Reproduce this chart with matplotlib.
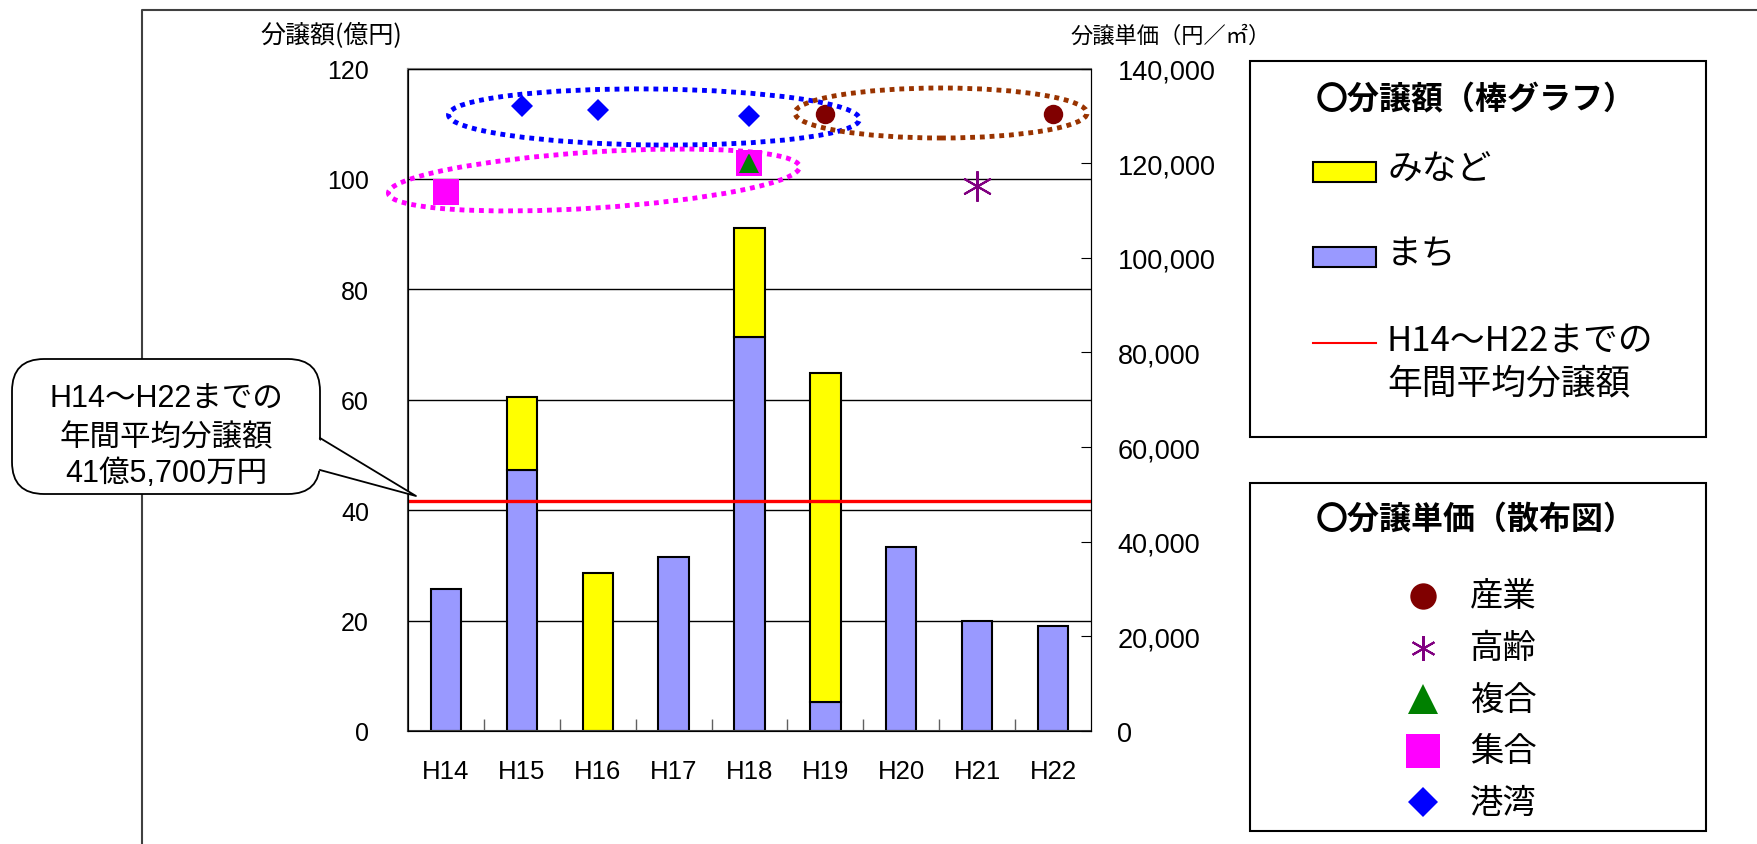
import numpy as np
import matplotlib
matplotlib.use("Agg")
import matplotlib.pyplot as plt
from matplotlib.patches import Ellipse, FancyBboxPatch, Polygon, Rectangle
from matplotlib.lines import Line2D
from matplotlib.ticker import FuncFormatter
from matplotlib.transforms import IdentityTransform

W, H = 1758, 845
JP = ["Noto Sans CJK JP", "DejaVu Sans"]
LAT = ["Liberation Sans", "Noto Sans CJK JP", "DejaVu Sans"]
plt.rcParams["font.family"] = LAT

# --- データ -------------------------------------------------------------
years = ["H14", "H15", "H16", "H17", "H18", "H19", "H20", "H21", "H22"]
machi = [25.8, 47.3, 0.0, 31.5, 71.3, 5.3, 33.3, 19.9, 19.1]      # 億円
minato = [0.0, 13.2, 28.6, 0.0, 19.9, 59.5, 0.0, 0.0, 0.0]        # 億円
avg_amount = 41.57                                                 # 億円

nan = np.nan
price_sangyo = [nan, nan, nan, nan, nan, 130400, nan, nan, 130400]  # 円/㎡
price_koureisha = [nan, nan, nan, nan, nan, nan, nan, 115200, nan]
price_fukugou = [nan, nan, nan, nan, 120100, nan, nan, nan, nan]
price_shugou = [113800, nan, nan, nan, 120100, nan, nan, nan, nan]
price_kouwan = [nan, 132100, 131300, nan, 130000, nan, nan, nan, nan]

C_MACHI = "#9999FF"
C_MINATO = "#FFFF00"
C_AVG = "#FF0000"
# (凡例名, 値, スタイル, 描画順)
scatter_styles = [
    ("産業", price_sangyo, dict(marker="o", color="#800000", ms=14, mew=0), 5),
    ("高齢", price_koureisha, dict(marker=(6, 2, 0), color="#800080", ms=22, mew=1.5), 5),
    ("複合", price_fukugou, dict(marker="^", color="#008000", ms=15, mew=0), 6),
    ("集合", price_shugou, dict(marker="s", color="#FF00FF", ms=19, mew=0), 4),
    ("港湾", price_kouwan, dict(marker="D", color="#0000FF", ms=11, mew=0), 5),
]


def px(x, y):
    """画像座標（左上原点）→ 表示座標"""
    return (x, H - y)


fig = plt.figure(figsize=(W / 100, H / 100), dpi=100)
ax = fig.add_axes([408 / W, 1 - 732 / H, 683 / W, 662.5 / H])
x = np.arange(len(years))

m = np.array(machi)
n = np.array(minato)
mask_m = m > 0
mask_n = n > 0
ax.bar(x[mask_m], m[mask_m], width=0.4, color=C_MACHI, edgecolor="black", linewidth=1.5, zorder=2)
ax.bar(x[mask_n], n[mask_n], width=0.4, bottom=m[mask_n], color=C_MINATO,
       edgecolor="black", linewidth=1.5, zorder=2)
ax.plot([-0.5, len(years) - 0.5], [avg_amount, avg_amount], color=C_AVG, lw=2.4, zorder=3)

ax.set_xlim(-0.5, len(years) - 0.5)
ax.set_ylim(0, 120)
ax.set_yticks(np.arange(0, 121, 20))
ax.set_xticks(x)
ax.set_xticklabels(years)
ax.set_xticks(np.arange(0.5, len(years) - 0.5, 1), minor=True)
ax.yaxis.grid(True, color="black", lw=1)
ax.set_axisbelow(True)
ax.tick_params(axis="y", length=0, pad=28, labelsize=18)
ax.tick_params(axis="x", which="major", length=0, pad=20, labelsize=18.5)
ax.tick_params(axis="x", which="minor", direction="in", length=9, color="#606060", width=1)
ax.spines["top"].set_color("#808080")
ax.spines["top"].set_linewidth(1.5)
for s in ("left", "bottom"):
    ax.spines[s].set_color("#404040")
    ax.spines[s].set_linewidth(1.5)

ax2 = ax.twinx()
ax2.set_ylim(0, 140000)
ax2.set_yticks(np.arange(0, 140001, 20000))
ax2.yaxis.set_major_formatter(FuncFormatter(lambda v, p: f"{int(v):,}"))
ax2.tick_params(axis="y", direction="in", length=7, pad=19, labelsize=19.5)
ax2.spines["right"].set_color("black")
for label, vals, st, z in scatter_styles:
    ax2.plot(x, vals, linestyle="none", zorder=z, **st)

# 軸タイトル
fig.text(331 / W, 1 - 36 / H, "分譲額(億円)", family=JP, fontsize=18, ha="center", va="center")
fig.text(1171 / W, 1 - 36 / H, "分譲単価（円／㎡）", family=JP, fontsize=16, ha="center", va="center")

# 点線の楕円（グループ表示）
ellipses = [
    ((654, 118), 411, 56, -0.6, "#0000FF"),
    ((941, 114), 292, 50, 0.0, "#993300"),
    ((594, 181), 412, 56, 3.7, "#FF00FF"),
]
for (cx, cy), ew, eh, ang, col in ellipses:
    fig.add_artist(Ellipse(px(cx, cy), ew, eh, angle=ang, fill=False, edgecolor=col,
                           lw=3.5, linestyle=(0, (1, 1)), transform=IdentityTransform(), zorder=5))

# 外枠
fig.add_artist(Line2D([142, 142, W + 5], [-5, H - 11, H - 11], color="#404040", lw=1.5,
                      transform=IdentityTransform()))

# 吹き出し
fig.add_artist(FancyBboxPatch(px(12, 495), 308, 135, boxstyle="round,pad=0,rounding_size=32",
                              facecolor="white", edgecolor="black", lw=1.3,
                              transform=IdentityTransform(), zorder=6))
tail = [px(316, 439), px(416, 497), px(316, 471)]
fig.add_artist(Polygon(tail, closed=True, facecolor="white", edgecolor="none",
                       transform=IdentityTransform(), zorder=7))
tx = [320, 416, 320]
ty = [H - 439, H - 497, H - 471]
fig.add_artist(Line2D(tx, ty, color="black", lw=1.3, transform=IdentityTransform(), zorder=8))
for txt, yy in zip(["H14～H22までの", "年間平均分譲額", "41億5,700万円"], [400, 438, 474]):
    fig.text(166 / W, 1 - yy / H, txt, fontsize=22, ha="center", va="center", zorder=9)

# 凡例1：分譲額
fig.add_artist(Rectangle(px(1250, 438), 456, 376, fill=False, edgecolor="black", lw=1.5,
                         transform=IdentityTransform()))
fig.text(1476 / W, 1 - 100 / H, "〇分譲額（棒グラフ）", family=JP, fontsize=23,
         fontweight="bold", ha="center", va="center")
for col, yy, lab in [(C_MINATO, 173, "みなど"), (C_MACHI, 258, "まち")]:
    fig.add_artist(Rectangle(px(1313, yy + 10), 63, 20, facecolor=col, edgecolor="black", lw=1.5,
                             transform=IdentityTransform()))
    fig.text(1387 / W, 1 - (yy - 3) / H, lab, family=JP, fontsize=25, ha="left", va="center")
fig.add_artist(Line2D([1313, 1376], [H - 344, H - 344], color=C_AVG, lw=1.5,
                      transform=IdentityTransform()))
fig.text(1387 / W, 1 - 341 / H, "H14～H22までの", family=JP, fontsize=25, ha="left", va="center")
fig.text(1387 / W, 1 - 384 / H, "年間平均分譲額", family=JP, fontsize=25, ha="left", va="center")

# 凡例2：分譲単価
fig.add_artist(Rectangle(px(1250, 832), 456, 348, fill=False, edgecolor="black", lw=1.5,
                         transform=IdentityTransform()))
fig.text(1476 / W, 1 - 520 / H, "〇分譲単価（散布図）", family=JP, fontsize=23,
         fontweight="bold", ha="center", va="center")
legend_ms = [19, 18, 21, 24, 15]
for i, (label, vals, st, z) in enumerate(scatter_styles):
    yy = 597 + i * 51.5
    s = dict(st)
    s["ms"] = legend_ms[i]
    fig.add_artist(Line2D([1423], [H - yy], linestyle="none", transform=IdentityTransform(), **s))
    fig.text(1470 / W, 1 - yy / H, label, family=JP, fontsize=24, ha="left", va="center")

fig.savefig("out.png", dpi=100)
